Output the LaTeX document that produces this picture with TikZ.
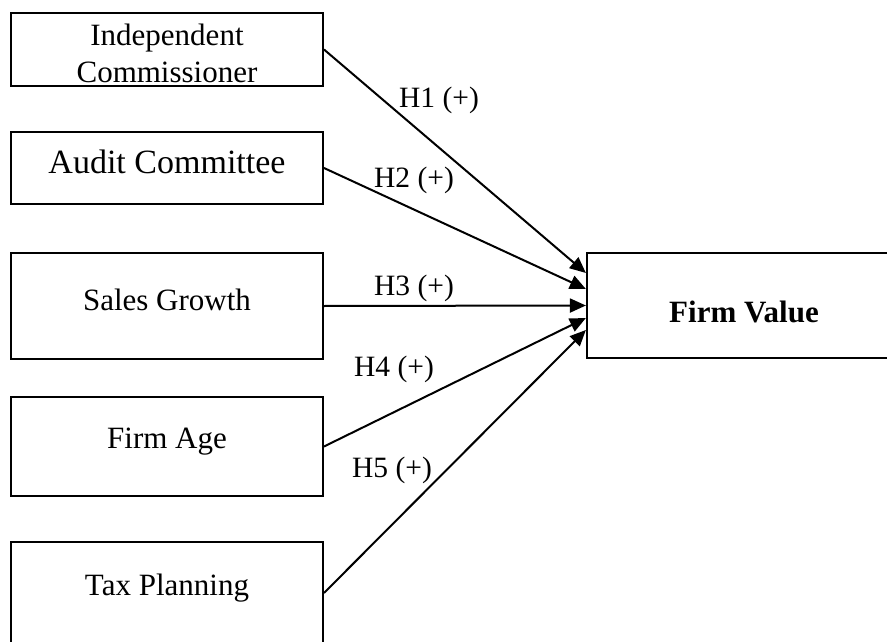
\documentclass[tikz,border=0pt]{standalone}
\usepackage{fontspec}
\setmainfont{Liberation Serif}
\usetikzlibrary{arrows.meta,calc}
\begin{document}
\begin{tikzpicture}[x=1pt,y=-1pt,
  varbox/.style={draw=black,line width=2pt,minimum width=312pt,inner sep=0pt},
  fvbox/.style={draw=black,line width=2.2pt,minimum width=314pt,minimum height=105pt,inner sep=0pt},
  boxtext/.style={inner sep=0pt,align=center,font=\fontsize{31}{37}\selectfont},
  hyp/.style={inner sep=0pt,font=\fontsize{29.5}{35}\selectfont},
  link/.style={line width=2pt,-{Triangle[length=16pt,width=14pt]}}]
\useasboundingbox (0,0) rectangle (887,642);
\fill[white] (0,0) rectangle (887,642);
\node[varbox,minimum height=73pt] (b1) at (167,49.5) {};
\node[varbox,minimum height=72pt] (b2) at (167,168) {};
\node[varbox,minimum height=106pt] (b3) at (167,306) {};
\node[varbox,minimum height=99pt] (b4) at (167,446.5) {};
\node[varbox,minimum height=102pt] (b5) at (167,593) {};
\node[fvbox] (fv) at (744,305.5) {};
\node[boxtext] (t1) at (167,53.5) {Independent\\Commissioner};
\node[boxtext,anchor=base,font=\fontsize{34}{40}\selectfont] (t2) at (167,173) {Audit Committee};
\node[boxtext,anchor=base] (t3) at (167,310) {Sales Growth};
\node[boxtext,anchor=base] (t4) at (167,448) {Firm Age};
\node[boxtext,anchor=base] (t5) at (167,595) {Tax Planning};
\node[boxtext,anchor=base,font=\fontsize{31}{37}\selectfont\bfseries] (tf) at (744,322) {Firm Value};
\draw[link] (b1.east) -- ([yshift=32.5pt]fv.west);
\draw[link] (b2.east) -- ([yshift=16.5pt]fv.west);
\draw[link] (b3.east) -- (fv.west);
\draw[link] (b4.east) -- ([yshift=-12.5pt]fv.west);
\draw[link] (b5.east) -- ([yshift=-24.5pt]fv.west);
\node[hyp] (h1) at (439,100) {H1 (+)};
\node[hyp] (h2) at (414,180) {H2 (+)};
\node[hyp] (h3) at (414,288) {H3 (+)};
\node[hyp] (h4) at (394,369) {H4 (+)};
\node[hyp] (h5) at (392,470) {H5 (+)};
\end{tikzpicture}
\end{document}
